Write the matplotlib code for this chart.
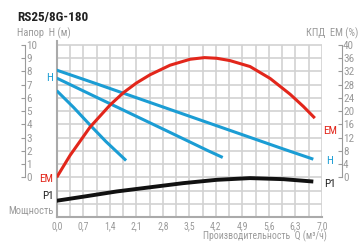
import matplotlib
matplotlib.use('Agg')
import matplotlib.pyplot as plt
from matplotlib import font_manager

# шрифт: узкий, если есть
names = {f.name for f in font_manager.fontManager.ttflist}
fam = 'Roboto'
for n in ['Roboto Condensed', 'Liberation Sans Narrow', 'DejaVu Sans Condensed']:
    if n in names:
        fam = n
        break
plt.rcParams['font.family'] = [fam, 'DejaVu Sans']

title = 'RS25/8G-180'
xticks = [0.0, 0.7, 1.4, 2.1, 2.8, 3.5, 4.2, 4.9, 5.6, 6.3, 7.0]
xlabels = ['0,0', '0,7', '1,4', '2,1', '2,8', '3,5', '4,2', '4,9', '5,6', '6,3', '7,0']
h_ticks = list(range(0, 11))
em_ticks = list(range(0, 41, 4))

# напор H (м), три скорости
q_h1 = [0.0, 1.0, 2.0, 3.0, 4.0, 5.0, 6.0, 6.77]
h1 = [8.1, 7.12, 6.12, 5.12, 4.12, 3.12, 2.12, 1.37]
q_h2 = [0.0, 1.0, 2.0, 3.0, 4.0, 4.38]
h2 = [7.5, 6.12, 4.75, 3.38, 2.0, 1.5]
q_h3 = [0.0, 0.45, 0.88, 1.3, 1.83]
h3 = [6.55, 5.27, 3.95, 2.7, 1.27]

# КПД ЕМ (%)
q_em = [0.0, 0.35, 0.88, 1.41, 1.76, 2.1, 2.46, 2.99, 3.52, 3.9, 4.22, 4.57, 5.1, 5.63, 6.16, 6.51, 6.81]
em = [0.0, 6.6, 15.2, 21.9, 25.6, 28.5, 31.0, 33.9, 35.7, 36.2, 36.0, 35.3, 33.5, 29.9, 25.1, 21.4, 17.9]

# мощность P1 (без шкалы, в единицах сетки)
q_p1 = [0.0, 0.8, 1.58, 2.5, 3.34, 4.22, 5.1, 5.98, 6.77]
p1 = [-1.77, -1.42, -1.07, -0.74, -0.44, -0.19, -0.06, -0.14, -0.32]

blue = '#1b9dd4'
red = '#e2261b'
gray = '#9a9a9a'

fig = plt.figure(figsize=(3.59, 2.43), dpi=100)
ax = fig.add_axes([0.158, 0.107, 0.739, 0.724])
ax.set_xlim(0, 7.0)
ax.set_ylim(-3, 10.3)

# сетка
ax.set_yticks(range(-3, 11))
ax.yaxis.grid(True, color='#d2d2d2', lw=1.2)
ax.vlines([0.35 * k for k in range(1, 21)], -3, 10, color='#d2d2d2', lw=1.2, zorder=0.5)
ax.set_axisbelow(True)
ax.tick_params(axis='y', length=0, labelleft=False)
ax.set_xticks(xticks)
ax.set_xticklabels(xlabels)
ax.tick_params(axis='x', length=0, pad=3, labelsize=7, labelcolor=gray)
for s in ['top', 'right']:
    ax.spines[s].set_visible(False)
for s in ['left', 'bottom']:
    ax.spines[s].set_color('#aaaaaa')
    ax.spines[s].set_linewidth(1.5)

ax.plot(q_h1, h1, color=blue, lw=2.2, solid_capstyle='butt', zorder=3)
ax.plot(q_h2, h2, color=blue, lw=2.2, solid_capstyle='butt', zorder=3)
ax.plot(q_h3, h3, color=blue, lw=2.2, solid_capstyle='butt', zorder=3)
ax.plot(q_em, [v / 4 for v in em], color=red, lw=2.2, solid_capstyle='butt', zorder=4)
ax.plot(q_p1, p1, color='#111111', lw=2.8, solid_capstyle='butt', zorder=4)

# шкала H слева
axh = ax.twinx()
axh.set_ylim(-3, 10.3)
for s in ['top', 'left', 'bottom']:
    axh.spines[s].set_visible(False)
axh.spines['right'].set_position(('axes', -0.1195))
axh.spines['right'].set_bounds(0, 10)
axh.spines['right'].set_color(gray)
axh.spines['right'].set_linewidth(0.8)
axh.set_yticks(h_ticks)
axh.tick_params(axis='y', direction='in', length=3, width=0.8, color=gray, labelcolor=gray, labelsize=8, pad=1)

# шкала ЕМ справа
axe = ax.twinx()
axe.set_ylim(-12, 41.2)
for s in ['top', 'left', 'bottom']:
    axe.spines[s].set_visible(False)
axe.spines['right'].set_position(('axes', 1.074))
axe.spines['right'].set_bounds(0, 40)
axe.spines['right'].set_color(gray)
axe.spines['right'].set_linewidth(0.8)
axe.set_yticks(em_ticks)
axe.tick_params(axis='y', direction='in', length=3, width=0.8, color=gray, labelcolor=gray, labelsize=8, pad=1)

# подписи
fig.text(0.047, 0.915, title, fontsize=9.5, fontweight='bold', color='#222222', va='baseline')
fig.text(0.047, 0.863, 'Напор  H (м)', fontsize=7.5, color=gray, va='center')
fig.text(0.997, 0.863, 'КПД  ЕМ (%)', fontsize=7.5, color=gray, va='center', ha='right')
fig.text(0.911, 0.026, 'Производительность  Q (м³/ч)', fontsize=7, color=gray, ha='right', va='center')

ax.text(-0.09, 7.5, 'H', color=blue, fontsize=8, ha='right', va='center', clip_on=False)
ax.text(-0.09, -0.1, 'EM', color=red, fontsize=8, ha='right', va='center', clip_on=False)
ax.text(-0.09, -1.4, 'P1', color='#222222', fontsize=8, ha='right', va='center', clip_on=False)
ax.text(-0.09, -2.5, 'Мощность', color=gray, fontsize=7.5, ha='right', va='center', clip_on=False)
ax.text(7.03, 3.5, 'EM', color=red, fontsize=8, ha='left', va='center', clip_on=False)
ax.text(7.12, 1.2, 'H', color=blue, fontsize=8, ha='left', va='center', clip_on=False)
ax.text(7.06, -0.5, 'P1', color='#222222', fontsize=8, ha='left', va='center', clip_on=False)

fig.savefig('out.png', dpi=100)
